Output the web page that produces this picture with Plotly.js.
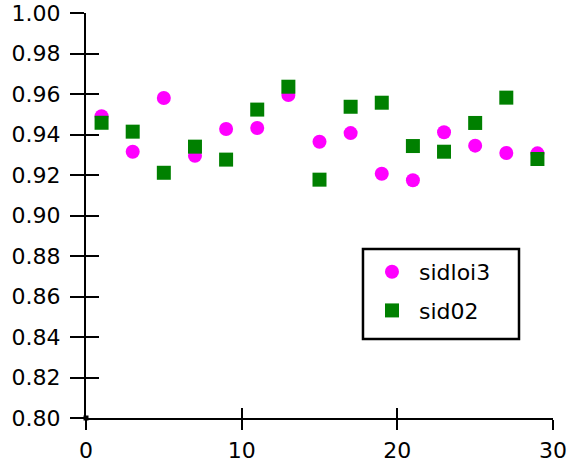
<!DOCTYPE html>
<html>
<head>
<meta charset="utf-8">
<script src="https://cdn.plot.ly/plotly-3.0.1.min.js"></script>
<style>html,body{margin:0;padding:0;background:#fff;}#chart{width:571px;height:465px;}</style>
</head>
<body>
<div id="chart"></div>
<script>
const xValues = [1, 3, 5, 7, 9, 11, 13, 15, 17, 19, 21, 23, 25, 27, 29];
const sidloi3 = [0.949, 0.9315, 0.958, 0.9295, 0.9427, 0.9432, 0.9595, 0.9364, 0.9407, 0.9206, 0.9174, 0.9411, 0.9345, 0.9309, 0.9307];
const sid02 = [0.9458, 0.9414, 0.9211, 0.934, 0.9276, 0.9523, 0.9636, 0.9177, 0.9537, 0.9557, 0.9343, 0.9315, 0.9457, 0.9582, 0.9279];
const originX = [0];
const originY = [0.80];

const xRange = [0, 30];
const yRange = [0.80, 1.00];
const font = {family: '"DejaVu Sans", "Liberation Sans", Arial, sans-serif', size: 22, color: '#000'};

const traces = [
  {x: xValues, y: sidloi3, name: 'sidloi3', legendgroup: 'a', type: 'scatter', mode: 'markers',
   marker: {symbol: 'circle', size: 14, color: '#ff00ff'}},
  {x: xValues, y: sid02, name: 'sid02', legendgroup: 'b', type: 'scatter', mode: 'markers',
   marker: {symbol: 'square', size: 14, color: '#008000'}},
  {x: originX, y: originY, type: 'scatter', mode: 'markers', showlegend: false,
   marker: {symbol: 'square', size: 5, color: '#000'}, cliponaxis: false},
  {x: [], y: [], xaxis: 'x2', yaxis: 'y2', type: 'scatter', showlegend: false}
];

const baseAxis = {showgrid: false, zeroline: false, showline: true, linecolor: '#000', linewidth: 2,
  tickcolor: '#000', tickwidth: 2, tickfont: font};

const layout = {
  width: 571, height: 465,
  margin: {l: 86, r: 18, t: 13, b: 47, pad: 0},
  paper_bgcolor: '#fff', plot_bgcolor: '#fff',
  font: font,
  showlegend: true,
  xaxis: Object.assign({}, baseAxis, {range: xRange, dtick: 10, tick0: 0, ticks: 'outside', ticklen: 10, ticklabelstandoff: 2}),
  yaxis: Object.assign({}, baseAxis, {range: yRange, dtick: 0.02, tick0: 0.8, tickformat: '.2f', ticks: 'outside', ticklen: 14, ticklabelstandoff: 5}),
  xaxis2: Object.assign({}, baseAxis, {range: xRange, dtick: 10, tick0: 0, ticks: 'inside', ticklen: 10, overlaying: 'x', anchor: 'y2', showticklabels: false}),
  yaxis2: Object.assign({}, baseAxis, {range: yRange, dtick: 0.02, tick0: 0.8, ticks: 'inside', ticklen: 13, overlaying: 'y', anchor: 'x2', showticklabels: false}),
  legend: {x: 0.5974, y: 0.4123, xanchor: 'left', yanchor: 'top', borderwidth: 0,
    bgcolor: 'rgba(0,0,0,0)', font: font, itemwidth: 44, traceorder: 'grouped', tracegroupgap: 7},
  shapes: [{type: 'rect', xref: 'paper', yref: 'paper', x0: 0.5931, x1: 0.9272, y0: 0.1951, y1: 0.4173,
    line: {color: '#000', width: 2.5}, fillcolor: 'rgba(0,0,0,0)', layer: 'above'}]
};

Plotly.newPlot('chart', traces, layout, {displayModeBar: false, staticPlot: true});
</script>
</body>
</html>
